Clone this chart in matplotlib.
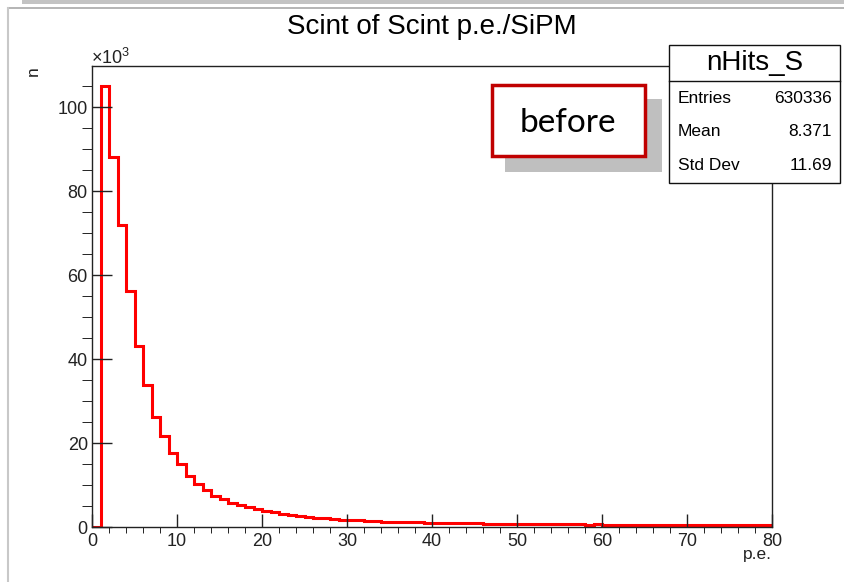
import matplotlib
matplotlib.use('Agg')
import matplotlib.pyplot as plt
from matplotlib.patches import Rectangle
from matplotlib.lines import Line2D
from matplotlib.ticker import MultipleLocator, FuncFormatter

# ---------------- data ----------------
bin_edges = list(range(0, 81))
counts = [
    0, 105000, 88200, 71900, 56300, 43000, 33800, 26300, 21700, 17600,
    14900, 12200, 10200, 8700, 7500, 6600, 5800, 5200, 4800, 4400,
    3900, 3500, 3200, 2900, 2600, 2450, 2200, 2050, 1850, 1750,
    1700, 1650, 1500, 1400, 1250, 1200, 1180, 1150, 1120, 1000,
    1050, 950, 920, 900, 880, 850, 800, 780, 760, 740,
    720, 700, 690, 680, 670, 650, 640, 630, 580, 650,
    560, 550, 540, 530, 520, 510, 500, 495, 490, 480,
    470, 465, 460, 450, 445, 440, 435, 430, 425, 420,
]
title = "Scint of Scint p.e./SiPM"
x_label = "p.e."
y_label = "n"
stat_name = "nHits_S"
stat_labels = ["Entries", "Mean", "Std Dev"]
stat_values = ["630336", "8.371", "11.69"]
note_text = "before"

# ---------------- style ----------------
plt.rcParams['font.family'] = ['Liberation Sans', 'DejaVu Sans']
plt.rcParams['mathtext.fontset'] = 'custom'
plt.rcParams['mathtext.rm'] = 'Liberation Sans'
plt.rcParams['mathtext.it'] = 'Liberation Sans'

W, H = 844, 582
fig = plt.figure(figsize=(W / 100, H / 100), dpi=100)

def fx(px):
    return px / W

def fy(py):
    return 1 - py / H

# outer decoration (screenshot frame)
fig.add_artist(Rectangle((fx(22), fy(4)), fx(844) - fx(22), fy(0) - fy(4),
                         transform=fig.transFigure, facecolor='#c3c3c3',
                         edgecolor='none'))
fig.add_artist(Line2D([fx(8), fx(844)], [fy(8), fy(8)], transform=fig.transFigure,
                      color='#a8a8a8', lw=1.2))
fig.add_artist(Line2D([fx(8), fx(8)], [fy(8), fy(582)], transform=fig.transFigure,
                      color='#c8c8c8', lw=1.5))

# ---------------- axes ----------------
ax = fig.add_axes([fx(92), fy(527), fx(772) - fx(92), fy(66) - fy(527)])
ax.stairs(counts, bin_edges, color='#ff0000', lw=2.2, baseline=0)
ax.set_xlim(0, 80)
ax.set_ylim(0, 109800)

for s in ax.spines.values():
    s.set_color('#222222')
    s.set_linewidth(1.0)

ax.xaxis.set_major_locator(MultipleLocator(10))
ax.xaxis.set_minor_locator(MultipleLocator(2))
ax.yaxis.set_major_locator(MultipleLocator(20000))
ax.yaxis.set_minor_locator(MultipleLocator(5000))
ax.yaxis.set_major_formatter(FuncFormatter(lambda v, p: f"{int(round(v / 1000))}"))

ax.tick_params(axis='both', direction='in', colors='#222222', labelcolor='#222222',
               labelsize=13, width=1.0)
ax.tick_params(axis='y', which='major', length=14.4, pad=3)
ax.tick_params(axis='y', which='minor', length=7.2)
ax.tick_params(axis='x', which='major', length=9.1, pad=4)
ax.tick_params(axis='x', which='minor', length=4.3)

# axis titles (ROOT-style placement)
fig.text(fx(772), fy(547), x_label, ha='right', va='top', fontsize=12.5,
         color='#222222')
fig.text(fx(33), fy(66), y_label, ha='center', va='top', rotation=90,
         fontsize=12.5, color='#222222')
fig.text(fx(91), fy(64), r'$\times10^{3}$', ha='left', va='baseline',
         fontsize=13, color='#222222')

# title
fig.text(fx(432), fy(27), title, ha='center', va='center', fontsize=20,
         color='black')

# ---------------- stat box ----------------
bx0, by0, bx1, by1 = 669, 45, 840, 183
fig.add_artist(Rectangle((fx(bx0), fy(by1)), fx(bx1) - fx(bx0), fy(by0) - fy(by1),
                         transform=fig.transFigure, facecolor='white',
                         edgecolor='#111111', lw=1.0, zorder=5))
fig.add_artist(Line2D([fx(bx0), fx(bx1)], [fy(81), fy(81)], transform=fig.transFigure,
                      color='#111111', lw=1.0, zorder=6))
fig.text(fx((bx0 + bx1) / 2), fy(63), stat_name, ha='center', va='center',
         fontsize=20, zorder=7)
row_y = [98, 132, 166]
for lab, val, yy in zip(stat_labels, stat_values, row_y):
    fig.text(fx(678), fy(yy), lab, ha='left', va='center', fontsize=12.5, zorder=7)
    fig.text(fx(832), fy(yy), val, ha='right', va='center', fontsize=12.5, zorder=7)

# ---------------- "before" annotation ----------------
fig.add_artist(Rectangle((fx(505), fy(172)), fx(662) - fx(505), fy(99) - fy(172),
                         transform=fig.transFigure, facecolor='#bfbfbf',
                         edgecolor='none', zorder=5))
fig.add_artist(Rectangle((fx(492), fy(156)), fx(645) - fx(492), fy(85) - fy(156),
                         transform=fig.transFigure, facecolor='white',
                         edgecolor='#c00000', lw=2.5, zorder=6))
fig.text(fx(568), fy(123), note_text, ha='center', va='center', fontsize=24,
         family=['Lato', 'DejaVu Sans'], color='black', zorder=7)

fig.savefig('out.png', dpi=100)
